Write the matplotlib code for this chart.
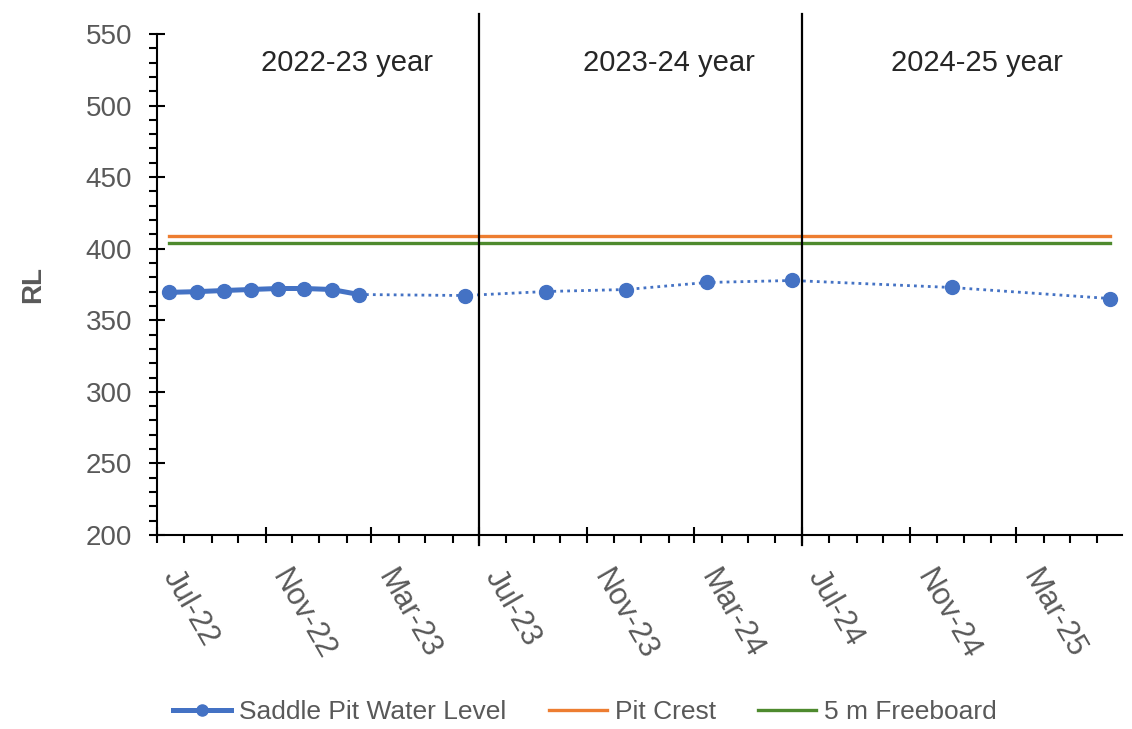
#!/usr/bin/env python3
"""Saddle Pit water level against pit crest and 5 m freeboard."""

import matplotlib

matplotlib.use("Agg")
import matplotlib.dates as mdates
import matplotlib.pyplot as plt
import matplotlib.transforms as mtransforms
import numpy as np
from matplotlib.lines import Line2D

OUTPUT_PNG = "out.png"

# measured monthly levels (solid) and later sparse surveys (dotted)
MEASURED_DATES = [
    "2022-07-15", "2022-08-15", "2022-09-15", "2022-10-15",
    "2022-11-15", "2022-12-15", "2023-01-15", "2023-02-15",
]
MEASURED_RL = [369.5, 370.0, 370.8, 371.5, 372.2, 372.2, 371.5, 368.0]

LATER_DATES = [
    "2023-06-15", "2023-09-15", "2023-12-15", "2024-03-15",
    "2024-06-20", "2024-12-18", "2025-06-15",
]
LATER_RL = [367.3, 370.1, 371.5, 376.4, 377.8, 372.9, 365.2]

PIT_CREST = 409.0
FREEBOARD = 404.0

YEAR_SPLITS = ["2023-07-01", "2024-07-01"]
YEAR_LABELS = ["2022-23 year", "2023-24 year", "2024-25 year"]
YEAR_LABEL_DATES = ["2023-02-01", "2024-02-01", "2025-01-15"]

BLUE = "#4472C4"
ORANGE = "#ED7D31"
GREEN = "#4E8A2E"
GREY_TEXT = "#595959"
FONT = ["Liberation Sans", "DejaVu Sans"]


def to_dates(values):
    return np.array(values, dtype="datetime64[D]")


def main() -> None:
    plt.rcParams["font.family"] = FONT

    fig = plt.figure(figsize=(11.32, 7.29), dpi=100)
    fig.patch.set_facecolor("white")
    ax = fig.add_axes([0.1387, 0.2661, 0.8525, 0.6873])

    measured_x = to_dates(MEASURED_DATES)
    later_x = to_dates(LATER_DATES)

    # dotted continuation from the last measured point
    ax.plot(
        np.concatenate([measured_x[-1:], later_x]),
        [MEASURED_RL[-1]] + LATER_RL,
        color=BLUE, linewidth=2.0, linestyle=(0, (1, 1.5)), zorder=3,
    )
    ax.plot(later_x, LATER_RL, linestyle="none", marker="o", markersize=10,
            color=BLUE, zorder=4)
    ax.plot(measured_x, MEASURED_RL, color=BLUE, linewidth=3.6, marker="o",
            markersize=10, zorder=5)

    x_span = [measured_x[0], later_x[-1]]
    ax.plot(x_span, [PIT_CREST, PIT_CREST], color=ORANGE, linewidth=2.4, zorder=2)
    ax.plot(x_span, [FREEBOARD, FREEBOARD], color=GREEN, linewidth=2.4, zorder=2)

    trans = mtransforms.blended_transform_factory(ax.transData, ax.transAxes)
    for split in to_dates(YEAR_SPLITS):
        ax.plot([split, split], [-0.02, 1.04], transform=trans, color="black",
                linewidth=1.6, clip_on=False, zorder=6)

    for label, when in zip(YEAR_LABELS, to_dates(YEAR_LABEL_DATES)):
        ax.text(when, 530, label, ha="center", va="center", fontsize=21,
                color="#262626")

    ax.set_xlim(np.datetime64("2022-07-01"), np.datetime64("2025-06-29"))
    ax.set_ylim(200, 550)
    ax.set_yticks(np.arange(200, 551, 50))
    ax.yaxis.set_minor_locator(matplotlib.ticker.MultipleLocator(10))
    ax.xaxis.set_major_locator(mdates.MonthLocator(bymonth=[3, 7, 11]))
    ax.xaxis.set_minor_locator(mdates.MonthLocator())
    ax.xaxis.set_major_formatter(mdates.DateFormatter("%b-%y"))

    for spine in ["top", "right"]:
        ax.spines[spine].set_visible(False)
    for spine in ["left", "bottom"]:
        ax.spines[spine].set_linewidth(1.5)
        ax.spines[spine].set_color("black")

    ax.tick_params(which="major", direction="inout", length=12, width=1.5,
                   colors="black", labelcolor=GREY_TEXT, labelsize=20)
    ax.tick_params(which="minor", direction="out", length=6, width=1.5,
                   colors="black")
    ax.tick_params(axis="y", which="major", pad=12)
    ax.tick_params(axis="x", which="major", pad=26)
    for lbl in ax.get_xticklabels():
        lbl.set_rotation(-60)
        lbl.set_ha("left")
        lbl.set_va("bottom")
        lbl.set_rotation_mode("anchor")
        lbl.set_fontsize(22)

    ax.set_ylabel("RL", fontsize=20, fontweight="bold", color=GREY_TEXT,
                  labelpad=28)

    handles = [
        Line2D([0], [0], color=BLUE, linewidth=3.6, marker="o", markersize=8,
               label="Saddle Pit Water Level"),
        Line2D([0], [0], color=ORANGE, linewidth=2.4, label="Pit Crest"),
        Line2D([0], [0], color=GREEN, linewidth=2.4, label="5 m Freeboard"),
    ]
    leg = fig.legend(handles=handles, loc="center", ncol=3,
                     bbox_to_anchor=(585 / 1132, 1 - 712 / 729), frameon=False,
                     fontsize=19, handlelength=2.2, handletextpad=0.3,
                     columnspacing=1.6)
    for text in leg.get_texts():
        text.set_color(GREY_TEXT)

    fig.savefig(OUTPUT_PNG, dpi=100, facecolor="white")
    plt.close(fig)


if __name__ == "__main__":
    main()
